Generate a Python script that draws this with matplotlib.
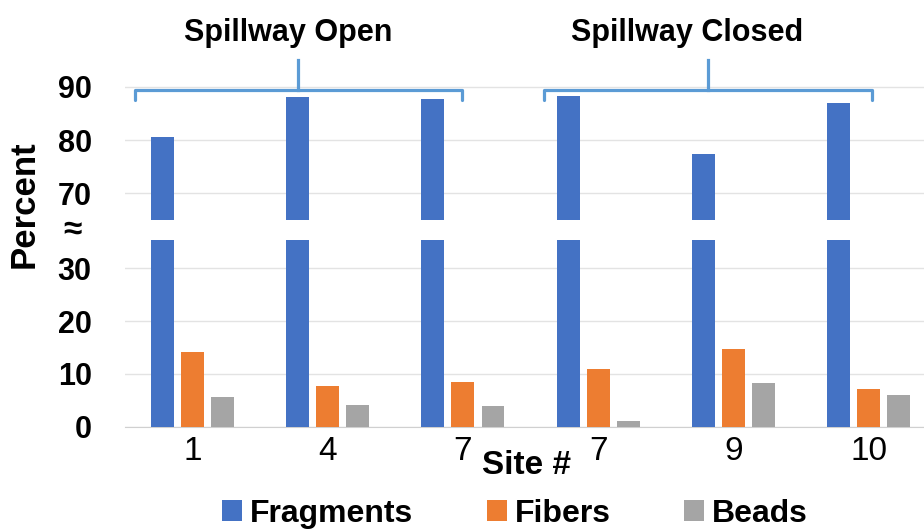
import matplotlib
matplotlib.use("Agg")
import matplotlib.pyplot as plt
from matplotlib.lines import Line2D
from matplotlib.patches import Patch
import numpy as np

plt.rcParams['font.family'] = ['Liberation Sans', 'DejaVu Sans']

sites = ["1", "4", "7", "7", "9", "10"]
fragments = [80.6, 88.1, 87.8, 88.3, 77.3, 87.0]
fibers = [14.1, 7.8, 8.5, 11.0, 14.7, 7.1]
beads = [5.7, 4.2, 4.0, 1.0, 8.3, 6.1]
series_names = ["Fragments", "Fibers", "Beads"]
groups = ["Spillway Open", "Spillway Closed"]
lower_ticks = [0, 10, 20, 30]
upper_ticks = [70, 80, 90]

colors = ["#4472C4", "#ED7D31", "#A5A5A5"]
W, H = 924, 531
fig = plt.figure(figsize=(W / 100, H / 100), dpi=100)

def fx(px):
    return px / W

def fy(py):
    return 1 - py / H

left = fx(125)
ax_lo = fig.add_axes([left, fy(426.7), 1 - left, fy(240) - fy(426.7)])
ax_hi = fig.add_axes([left, fy(220), 1 - left, fy(82) - fy(220)])

x = np.arange(len(sites))
bw = 0.17
off = 0.222
for ax in (ax_lo, ax_hi):
    for i, (vals, c) in enumerate(zip([fragments, fibers, beads], colors)):
        ax.bar(x + (i - 1) * off, vals, width=bw, color=c, zorder=3)
    ax.set_xlim(-0.5, 5.41)
    for s in ax.spines.values():
        s.set_visible(False)
    ax.grid(axis='y', color='#E3E3E3', linewidth=1, zorder=0)
    ax.tick_params(axis='y', length=0, pad=24)

ax_lo.set_ylim(0, 35.4)
ax_lo.set_yticks(lower_ticks)
ax_lo.set_yticklabels([str(t) for t in lower_ticks], fontweight='bold', fontsize=22)
ax_lo.spines['bottom'].set_visible(True)
ax_lo.spines['bottom'].set_color('#D0D0D0')
ax_lo.set_xticks(x)
ax_lo.set_xticklabels(sites, fontsize=24)
ax_lo.tick_params(axis='x', length=0, pad=7)

ax_hi.set_ylim(65.0, 90.9)
ax_hi.set_yticks(upper_ticks)
ax_hi.set_yticklabels([str(t) for t in upper_ticks], fontweight='bold', fontsize=22)
ax_hi.set_xticks([])

fig.text(fx(72.5), fy(230), "≈", fontsize=24, fontweight='bold', ha='center', va='center')
fig.text(fx(24), fy(204), "Percent", fontsize=25, fontweight='bold', rotation=90,
         ha='center', va='center')
fig.text(fx(527), fy(466), "Site #", fontsize=24, fontweight='bold', ha='center', va='center')

bcol = '#5B9BD5'
def bracket(x0, x1, xc, tx, title):
    y_h, y_end, y_top = fy(90), fy(100), fy(60)
    fig.add_artist(Line2D([fx(x0), fx(x0), fx(x1), fx(x1)], [y_end, y_h, y_h, y_end],
                          color=bcol, lw=2.3, solid_joinstyle='round', solid_capstyle='round'))
    fig.add_artist(Line2D([fx(xc), fx(xc)], [y_h, y_top], color=bcol, lw=2.3))
    fig.text(fx(tx), fy(33), title, fontsize=22, fontweight='bold', ha='center', va='center')

bracket(135, 462, 298, 288, groups[0])
bracket(544, 872, 708, 687, groups[1])

handles = [Patch(facecolor=c, edgecolor='none') for c in colors]
leg = fig.legend(handles, series_names, loc='center', bbox_to_anchor=(fx(515), fy(514)),
                 ncol=3, frameon=False, prop={'weight': 'bold', 'size': 23},
                 handlelength=0.62, handleheight=0.62, handletextpad=0.25, columnspacing=2.3,
                 borderpad=0)

fig.savefig("out.png", dpi=100)
